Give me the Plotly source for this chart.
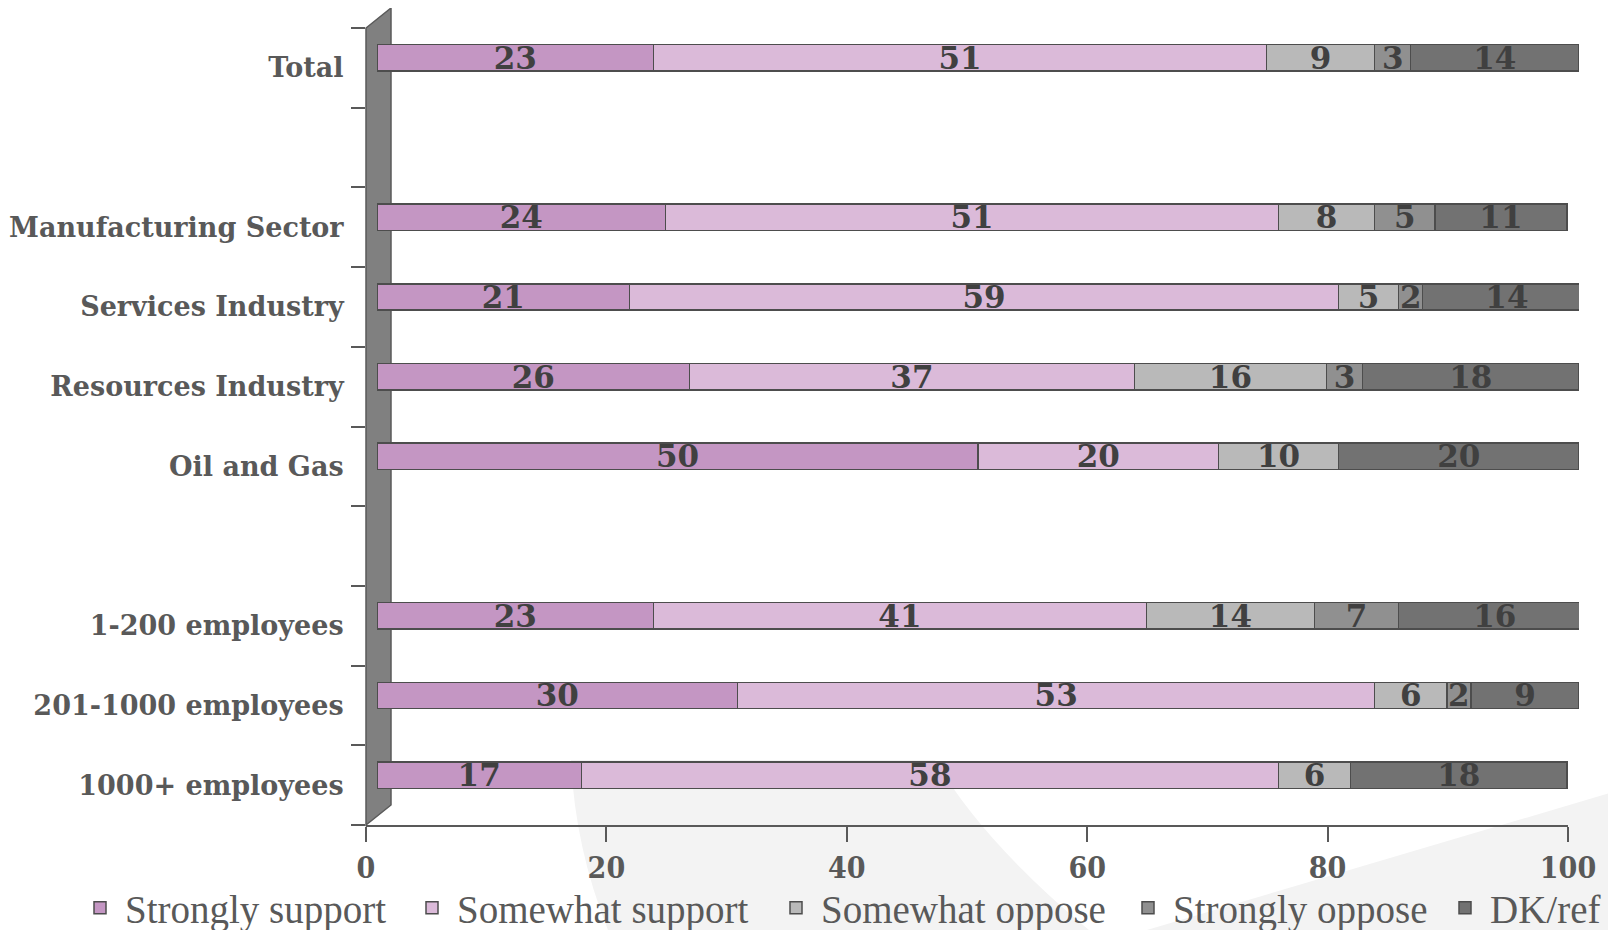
import plotly.graph_objects as go

# ---------------- data ----------------
categories = ["Total",
              "Manufacturing Sector", "Services Industry", "Resources Industry", "Oil and Gas",
              "1-200 employees", "201-1000 employees", "1000+ employees"]
group_sizes = [1, 4, 3]

strongly_support = [23, 24, 21, 26, 50, 23, 30, 17]
somewhat_support = [51, 51, 59, 37, 20, 41, 53, 58]
somewhat_oppose = [9, 8, 5, 16, 10, 14, 6, 6]
strongly_oppose = [3, 5, 2, 3, 0, 7, 2, 0]
dk_ref = [14, 11, 14, 18, 20, 16, 9, 18]

series_names = ["Strongly support", "Somewhat support", "Somewhat oppose", "Strongly oppose", "DK/ref"]
series_values = [strongly_support, somewhat_support, somewhat_oppose, strongly_oppose, dk_ref]
series_colors = ["#c496c3", "#dbbad9", "#b9b9b9", "#909090", "#727272"]
legend_widths = [277, 309, 297, 262, 110]   # px reserved per legend entry

x_ticks = [0, 20, 40, 60, 80, 100]

# ---------------- layout geometry ----------------
OFF = 8                       # page body margin (figure starts 8px into the window)
W, H = 1608, 922              # figure size
ML, MR, MT, MB = 358, 22, 2, 95
PW, PH = W - ML - MR, H - MT - MB
# screen (window) pixel positions
AX_L, AX_R = 366, 1568        # x axis 0..100
AX_T, AX_B = 28, 825          # category area
DX, DY = 11, 10               # 3D depth shift of bars


def px(x):
    return (x - OFF - ML) / PW


def py(y):
    return (MT + PH - (y - OFF)) / PH


# row positions: one blank row between groups
y_pos = []
pos = 0
for gi, n in enumerate(group_sizes):
    if gi:
        pos += 1
    for _ in range(n):
        y_pos.append(pos)
        pos += 1
n_rows = pos

TEXT = "#404040"
AXC = "#595959"

fig = go.Figure()

for name, vals, col, lw in zip(series_names, series_values, series_colors, legend_widths):
    fig.add_trace(go.Bar(
        name=name, orientation="h",
        x=vals, y=y_pos,
        xaxis="x2", yaxis="y2",
        width=0.33,
        marker=dict(color=col, line=dict(color="#4d4d4d", width=1.5)),
        text=[str(v) if v else "" for v in vals],
        textposition="inside", insidetextanchor="middle",
        constraintext="none", textangle=0,
        textfont=dict(family="DejaVu Serif", size=31, color=TEXT, weight="bold"),
        legendwidth=lw,
        hoverinfo="skip",
    ))

# invisible helper on main axes so they are drawn
fig.add_trace(go.Scatter(x=[0] * len(y_pos), y=y_pos, mode="markers",
                         marker=dict(opacity=0), showlegend=False, hoverinfo="skip",
                         xaxis="x", yaxis="y"))

shapes = []
# faint watermark swoosh
shapes.append(dict(type="path", xref="paper", yref="paper", layer="below",
                   path=("M {a},{b} L {c},{b} Q {d},{e} {f},{g} L {h},{g} Q {i},{j} {a},{b} Z").format(
                       a=px(571), b=py(760), c=px(935), d=px(985), e=py(845), f=px(1095), g=py(935),
                       h=px(610), i=px(575), j=py(850)),
                   fillcolor="#f3f3f3", line=dict(width=0)))
shapes.append(dict(type="path", xref="paper", yref="paper", layer="below",
                   path="M {a},{b} L {c},{d} L {c},{b} Z".format(
                       a=px(1130), b=py(935), c=px(1620), d=py(790)),
                   fillcolor="#f3f3f3", line=dict(width=0)))
# left 3D wall
shapes.append(dict(type="path", xref="paper", yref="paper", layer="below",
                   path="M {x0},{yb} L {x0},{yt} L {x1},{yt2} L {x1},{yb2} Z".format(
                       x0=px(AX_L), x1=px(AX_L + 25), yb=py(AX_B), yt=py(AX_T),
                       yt2=py(AX_T - 20), yb2=py(AX_B - 20)),
                   fillcolor="#808080", line=dict(color="#5a5a5a", width=1.5)))

fig.update_layout(
    width=W, height=H,
    margin=dict(l=ML, r=MR, t=MT, b=MB, autoexpand=False),
    paper_bgcolor="white", plot_bgcolor="rgba(0,0,0,0)",
    barmode="stack",
    shapes=shapes,
    showlegend=True,
    legend=dict(orientation="h", x=px(75), xanchor="left", y=py(908), yanchor="middle",
                font=dict(family="Liberation Serif", size=39, color=AXC),
                itemwidth=40, traceorder="normal", bgcolor="rgba(0,0,0,0)"),
    xaxis=dict(domain=[px(AX_L), px(AX_R)], range=[0, 100], anchor="y",
               tickvals=x_ticks, ticks="outside", ticklen=15, tickwidth=1.5, tickcolor=AXC,
               showline=True, linecolor=AXC, linewidth=2, showgrid=False, zeroline=False,
               tickfont=dict(family="DejaVu Serif Condensed", size=30, color=AXC, weight="bold")),
    yaxis=dict(domain=[py(AX_B), py(AX_T)], range=[n_rows - 0.5, -0.5], anchor="x",
               tickvals=y_pos, ticktext=categories,
               ticks="outside", ticklen=16, tickcolor="rgba(0,0,0,0)",
               minor=dict(tickvals=[k - 0.5 for k in range(n_rows + 1)], ticks="outside",
                          ticklen=14, tickwidth=1.5, tickcolor=AXC, showgrid=False),
               showline=False, showgrid=False, zeroline=False,
               tickfont=dict(family="DejaVu Serif", size=27, color=AXC, weight="bold")),
    xaxis2=dict(domain=[px(AX_L + DX), px(AX_R + DX)], range=[0, 100], anchor="y2",
                visible=False),
    yaxis2=dict(domain=[py(AX_B - DY), py(AX_T - DY)], range=[n_rows - 0.5, -0.5], anchor="x2",
                visible=False),
)

fig.write_html("out.html")
